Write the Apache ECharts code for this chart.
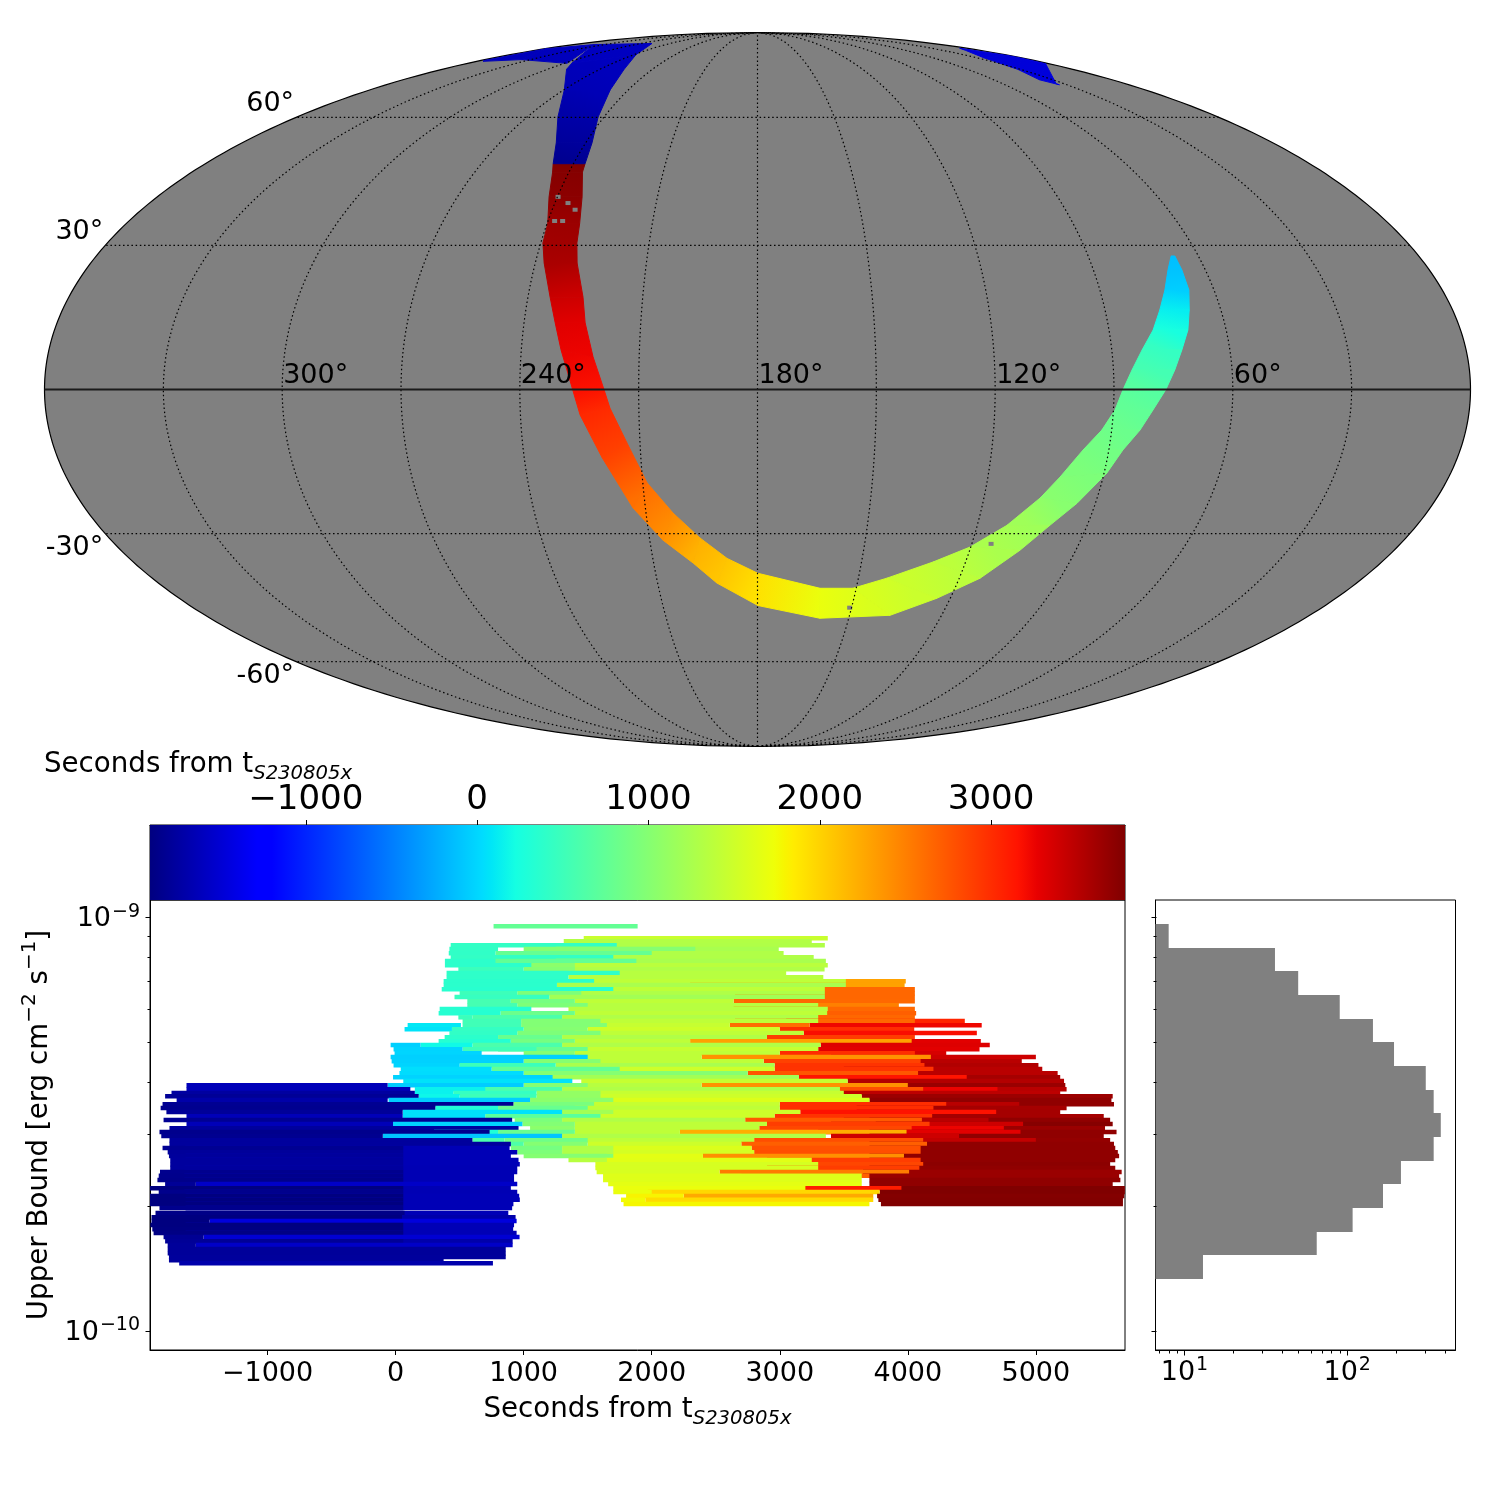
<!DOCTYPE html>
<html><head><meta charset="utf-8">
<style>html,body{margin:0;padding:0;background:#fff}#c{width:1500px;height:1500px}</style>
<script src="https://cdn.jsdelivr.net/npm/echarts@6/dist/echarts.min.js"></script>
</head><body><div id="c"></div>
<script>
// ---------- DATA ----------
// sky band: two edges of the localisation strip (lon, lat in degrees), and seconds from the event
const armLonA=[67.4,70.0,72.9,75.8,78.7,82.3,85.3,87.7,89.6,92.5,96.6,101.2,105.1,111.9,120.2,129.4,141.5,151,161,179.9,188.7,196,202.7,208.9,213.3,217.3,218.8,221.7,224.3,225.6,228.7,230,230.7,232.6,235.7,236.2];
const armLatA=[27.7,24.75,20.5,16.35,12.2,8.1,4.0,0,-4.2,-8.3,-12.4,-18.0,-22.4,-28.2,-32.9,-36.2,-39.8,-42.1,-42.1,-38.7,-35.4,-30.9,-25.6,-19.2,-11,-3.8,0.1,6.7,13.7,19,26.2,30.5,34.7,40.7,46.4,48.4];
const armLonB=[66.4,66.3,66.6,68.2,69.8,72.2,74.5,76.9,80,82.8,86.4,89.3,94.9,100.2,105.8,113.8,124.2,136.8,159.5,179.8,192.2,198.6,206.3,213.3,220,224.9,226.6,229.9,232,234.2,237.6,239.4,239.8,242.5,245.2,246.6];
const armLatB=[27.7,24.75,20.5,16.35,12.2,8.1,4.0,0,-4.2,-8.3,-12.4,-17.2,-23.5,-28.2,-33.6,-39.8,-44.4,-48.4,-49.1,-46.1,-40.9,-36.4,-31.4,-24.5,-13.9,-5.2,-0.2,8.1,13.7,19,26.2,30.5,34.7,40.7,46.4,48.4];
const armTime=[-130,-110,-50,130,250,450,550,680,750,820,880,950,1020,1180,1260,1380,1480,1580,1700,1915,2080,2194,2420,2602,2885,3025,3170,3250,3304,3406,3571,3617,3640,3720,3750,3782];

const northLonA=[236.2,237.8,242.3,248.4,256.1,268.5,288.3];
const northLatA=[48.4,53.5,60.1,67.6,73.9,79,83.5];
const northLonB=[246.6,250.3,258,269.7,288.9,295.3,340];
const northLatB=[48.4,53.5,60.1,67.6,73.9,75.9,83];
const northTime=[-1835,-1770,-1710,-1640,-1620,-1600,-1590];

const wingLonA=[356,335.8,298.3];
const wingLatA=[76.6,77.2,75.9];
const wingLonB=[358,359,340];
const wingLatB=[76.9,81.3,83];
const wingTime=[-1620,-1620,-1610];

const farLonA=[6,1,1,2,34];
const farLatA=[81.5,78.6,77.7,75.8,69.4];
const farLonB=[12,25.2,31.5,36.9,33.7];
const farLatB=[80.6,77.9,73.9,70.6,69.1];
const farTime=[-1480,-1480,-1470,-1460,-1450];

// small gaps in the sky coverage
const holeLon=[239.8,236.1,233.3,238.1,235.8,150.6,114.6];
const holeLat=[40.7,39.3,37.8,35.3,35.3,-46.6,-32.2];

// upper-limit rows: log10(upper bound), then [start, end, start, end, ...] in seconds, back to front
const ubLog=[-9.022,-9.051,-9.058,-9.068,-9.077,-9.087,-9.097,-9.106,-9.116,-9.126,-9.135,-9.145,-9.155,-9.164,-9.174,-9.184,-9.193,-9.203,-9.213,-9.222,-9.232,-9.242,-9.251,-9.261,-9.271,-9.280,-9.290,-9.300,-9.309,-9.319,-9.329,-9.338,-9.348,-9.358,-9.367,-9.377,-9.387,-9.396,-9.406,-9.416,-9.425,-9.433,-9.442,-9.452,-9.461,-9.471,-9.481,-9.490,-9.500,-9.510,-9.519,-9.529,-9.539,-9.548,-9.558,-9.568,-9.577,-9.587,-9.597,-9.606,-9.616,-9.625,-9.635,-9.645,-9.655,-9.664,-9.674,-9.683,-9.693,-9.703,-9.715,-9.725,-9.734,-9.744,-9.754,-9.763,-9.773,-9.783,-9.792,-9.802,-9.812,-9.821,-9.829,-9.836];
const spans=[
[765,1890],
[1469,3375],
[1313,3250],
[1300,3352,430,1727],
[1250,2992,1000,2340,420,800],
[1300,3030,780,2000,415,780],
[1300,3265,430,1700],
[1250,3360,760,1880,385,780],
[1370,3375,1050,1400,385,1060],
[1300,3350,1000,1400,490,1000],
[1350,3050,398,1750],
[1350,3340,398,1350],
[2300,3984,1400,3516,375,1550],
[2300,3975,1260,3516,375,1260],
[2650,4055,1400,3352,360,1700],
[2650,4055,1300,3352,950,1450,500,950],
[2650,4055,1200,3352,460,1200],
[2640,4055,1400,2640,900,1400,560,900],
[2500,3930,1350,3300,950,1500,560,950],
[2640,4055,1350,3375,344,1060],
[2700,4065,1400,3370,820,1400,336,820],
[2650,4055,1300,3300,600,1300,490,600],
[3050,4445,2650,4055,1400,3300,980,1600,523,980],
[3234,4577,2610,3234,1450,2610,980,1650,523,980,94,510],
[3000,4050,1500,3000,1000,1500,440,1000,70,440],
[3187,4539,1400,3187,950,1600,420,950],
[2900,4055,1300,2900,800,1300,383,800],
[3300,4570,2300,4030,1400,2300,900,1400,336,900],
[3320,4640,1300,3320,600,1300,195,600,-39,195],
[3300,4560,1450,3300,800,1500,523,1100,-16,523],
[3350,4300,3000,4055,1400,3000,1000,1400,-8,672],
[3400,5000,2390,4180,1400,2390,-39,1500],
[3500,4890,2875,4100,1400,2875,1000,1600,-31,1000],
[3540,5020,2960,4130,1250,2960,500,1250,-16,500],
[3500,5050,2960,4200,1500,2960,750,1750,40,750],
[3500,5170,2750,4080,1000,2750,30,1000],
[3600,5190,3150,4460,1200,3150,-20,1226],
[3530,5220,1450,3530,60,1380],
[3650,5230,2390,4000,1350,2390,1000,1500,-60,1000,-1633,-62],
[3500,5240,3250,4700,2800,4120,1300,3470,600,1300,150,700,-1633,115],
[3480,5190,1450,3500,1100,1600,450,1100,150,450,-1750,150],
[3640,5600,1500,3640,1100,1600,500,1100,180,500,-1800,180],
[3700,5590,1600,3700,1050,1700,-55,1050,-1710,-62],
[3700,5610,3500,4870,3000,4300,1450,3000,920,1550,-1820,920],
[3600,5240,3000,4200,1400,3000,800,1500,310,800,-1835,310],
[3600,5190,3160,4690,1500,3160,1200,1700,55,1300,-1790,55],
[3600,5530,2960,4190,1500,2960,700,1600,55,700,-1633,55],
[3700,5580,3500,4630,2730,4110,1300,2730,930,1300,-1812,910],
[3750,5600,3400,4900,2900,4170,1400,2900,990,1400,-20,990,-1633,-20],
[3650,5540,3250,4750,2840,4030,1400,2840,1050,1400,-1766,960],
[3700,5630,3300,4880,2220,3990,1400,2220,800,1400,300,800,-1844,734],
[3700,5530,3400,4400,1300,3360,-100,1300,-1830,-100],
[3680,5580,3450,5000,2800,4120,1400,2800,850,1500,600,850,-1766,600],
[3700,5610,2700,4150,1500,2700,1000,1500,620,1000,-1766,900],
[3700,5620,2780,4100,1600,2780,1300,1700,900,1300,-1640,890,-1820,60],
[3700,5640,2800,4100,1550,2800,1300,1700,950,1300,-1640,950,-1780,60],
[3700,5650,2400,3970,1650,2400,1000,1700,-1640,900,-1770,60],
[3700,5620,2900,4100,1640,3250,1350,1650,-1640,960,-1760,60],
[3720,5580,2850,4120,1560,3300,-1640,970,-1760,60],
[3700,5620,2900,4090,1560,3300,-1650,950,-1760,60],
[3650,5670,2530,4010,1570,2530,-1650,950,-1840,60],
[3650,5650,2700,3700,1620,3640,-1650,925,-1850,60],
[3700,5660,1620,3640,-1650,925,-1860,60],
[3700,5600,1660,3640,-1560,950,-1800,-1560],
[3780,5695,3100,3950,1700,3200,-1650,900,-1922,60],
[3780,5695,1970,3780,1700,2000,-1650,950,-1850,60],
[3760,5690,2250,3730,1800,2250,-1640,965,-1920,60],
[3770,5680,1950,3730,1760,1950,-1640,970,-1922,60],
[3790,5680,1780,3700,-1640,920,-1922,60],
[-1640,910,-1844,60],
[-1640,880,-1875,70],
[-1700,937,-1906,50],
[-1453,945,-1906,-1453],
[-1640,925,-1915,60],
[-1640,918,-1900,60],
[-1640,945,-1890,60],
[-1500,968,-1812,-1500],
[-1700,914,-1800,60],
[-1560,914,-1780,-1560],
[-1780,860],
[-1780,860],
[-1770,860],
[-1770,375],
[-1690,760]
];

// histogram of upper bounds
const binEdgeLog=[-9.017,-9.074,-9.131,-9.188,-9.245,-9.302,-9.360,-9.417,-9.474,-9.531,-9.588,-9.645,-9.702,-9.760,-9.817,-9.874];
const binCount=[8,36,50,90,144,194,304,340,376,340,214,166,108,65,13];

// tick marks and labels
const cbTicks=[-1000,0,1000,2000,3000];
const timeTicks=[-1000,0,1000,2000,3000,4000,5000];
const ubMajor=[1e-10,1e-9];
const ubMinor=[2e-10,3e-10,4e-10,5e-10,6e-10,7e-10,8e-10,9e-10];
const countMajor=[10,100];
const countMinor=[7,8,9,20,30,40,50,60,70,80,90,200,300,400];
const meridians=[30,60,90,120,150,180,210,240,270,300,330];
const parallels=[-60,-30,30,60];
const meridianLabels=[300,240,180,120,60];
const parallelLabels=[60,30,-30,-60];

const T_MIN=-1910,T_MAX=3782;
const X_MIN=-1918,X_MAX=5696;
const UB_MIN=9e-11,UB_MAX=1.1e-9;
const C_MIN=6.64,C_MAX=463;
const FONT='"DejaVu Sans"';

// ---------- HELPERS ----------
function ramp(pts,f){
  for(let i=1;i<pts.length;i++){ if(f<=pts[i][0]){const a=pts[i-1],b=pts[i];return a[1]+(b[1]-a[1])*(f-a[0])/(b[0]-a[0]);} }
  return pts[pts.length-1][1];
}
const JR=[[0,0],[.35,0],[.66,1],[.89,1],[1,.5]];
const JG=[[0,0],[.125,1e-9],[.375,1],[.64,1],[.91,0],[1,0]];
const JB=[[0,.5],[.11,1],[.34,1],[.65,0],[1,0]];
function jetFrac(f){f=Math.max(0,Math.min(1,f));
  return 'rgb('+Math.round(255*ramp(JR,f))+','+Math.round(255*ramp(JG,f))+','+Math.round(255*ramp(JB,f))+')';}
function jet(t){return jetFrac((t-T_MIN)/(T_MAX-T_MIN));}
const jetBreaks=[0,.11,.125,.34,.35,.375,.64,.65,.66,.89,.91,1];

function project(lon,lat){
  const phi=lat*Math.PI/180;
  let th=phi;
  if(Math.abs(lat)>=90){th=Math.sign(lat)*Math.PI/2;}
  else for(let i=0;i<40;i++){
    const d=(2*th+Math.sin(2*th)-Math.PI*Math.sin(phi))/(2+2*Math.cos(2*th));
    th-=d; if(Math.abs(d)<1e-9)break;
  }
  return [-(lon-180)/180*Math.cos(th),Math.sin(th)];
}
function seq(a,b,s){const o=[];for(let v=a;v<=b+1e-9;v+=s)o.push(v);return o;}

const mapAxes={coordinateSystem:'cartesian2d',xAxisIndex:0,yAxisIndex:0,silent:true};
function band(lonA,latA,lonB,latB,time){
  return Object.assign({type:'custom',data:time.slice(1).map((_,i)=>[i,0]),
    renderItem(p,api){
      const i=p.dataIndex;
      const c=(lo,la)=>api.coord(project(lo,la));
      const a0=c(lonA[i],latA[i]),b0=c(lonB[i],latB[i]),a1=c(lonA[i+1],latA[i+1]),b1=c(lonB[i+1],latB[i+1]);
      const m0=[(a0[0]+b0[0])/2,(a0[1]+b0[1])/2],m1=[(a1[0]+b1[0])/2,(a1[1]+b1[1])/2];
      const g=new echarts.graphic.LinearGradient(m0[0],m0[1],m1[0],m1[1],[{offset:0,color:jet(time[i])},{offset:1,color:jet(time[i+1])}],true);
      return {type:'polygon',shape:{points:[a0,b0,b1,a1]},style:{fill:g,stroke:g,lineWidth:1}};
    }},mapAxes);
}
function polyline(pts,style){return {type:'polyline',shape:{points:pts},style:Object.assign({fill:null,stroke:'#000',lineWidth:1},style)};}

function tickSeries(xi,yi,values,dir,len){
  return {type:'custom',xAxisIndex:xi,yAxisIndex:yi,silent:true,clip:false,z:10,
    data:values.map(v=>dir==='y'?[xi===2?X_MIN:C_MIN,v]:[v,UB_MIN]),
    renderItem(p,api){
      const c=api.coord([api.value(0),api.value(1)]);
      const x=Math.round(c[0])+.5,y=Math.round(c[1])+.5;
      const s=dir==='y'?{x1:x-len,y1:y,x2:x,y2:y}:{x1:x,y1:y,x2:x,y2:y+len};
      return {type:'line',shape:s,style:{stroke:'#000',lineWidth:1}};
    }};
}

// ---------- CHART ----------
const barData=[];
spans.forEach((row,r)=>{for(let k=0;k<row.length;k+=2)barData.push([row[k],row[k+1],Math.pow(10,ubLog[r])]);});

const powLabel=(v)=>{const e=Math.log10(v),n=Math.round(e);
  if(Math.abs(e-n)>1e-6)return '';
  return '{b|10}{e|'+String(n).replace('-','\u2212')+'}';};
const powRich={b:{fontFamily:FONT,fontSize:27,color:'#000',lineHeight:30,verticalAlign:'bottom'},
  e:{fontFamily:FONT,fontSize:19,color:'#000',lineHeight:20,verticalAlign:'top',padding:[0,0,0,1]}};
const nameRich={a:{fontFamily:FONT,fontSize:27.7,fontWeight:'normal',color:'#000',lineHeight:34,verticalAlign:'bottom'},
  s:{fontFamily:FONT,fontSize:19.6,fontWeight:'normal',fontStyle:'italic',color:'#000',lineHeight:34,verticalAlign:'bottom',padding:[0,0,-5,0]},
  u:{fontFamily:FONT,fontSize:20,fontWeight:'normal',color:'#000',lineHeight:24,verticalAlign:'top'}};
const lineK={onZero:false,lineStyle:{color:'#000',width:1}};
const tickK={lineStyle:{color:'#000',width:1}};

const option={
  animation:false,backgroundColor:'#fff',
  title:{text:'{a|Seconds from t}{s|S230805x}',left:44,top:745,padding:0,
    textStyle:{rich:nameRich,fontFamily:FONT,fontSize:28,fontWeight:'normal'}},
  grid:[
    {left:44.5,top:32.5,width:1426,height:714,show:false},
    {left:150,top:825,width:975,height:75,show:true,borderColor:'#000',borderWidth:1,backgroundColor:'transparent'},
    {left:150,top:900,width:975,height:450,show:true,borderColor:'#000',borderWidth:1,backgroundColor:'transparent'},
    {left:1155.5,top:900,width:300,height:450,show:true,borderColor:'#000',borderWidth:1,backgroundColor:'transparent'}
  ],
  xAxis:[
    {gridIndex:0,type:'value',min:-1,max:1,show:false},
    {gridIndex:1,type:'value',position:'top',min:T_MIN,max:T_MAX,
      axisLine:{show:true,...lineK},splitLine:{show:false},
      axisTick:{show:true,length:5,inside:false,...tickK,customValues:cbTicks},
      axisLabel:{customValues:cbTicks,fontFamily:FONT,fontSize:34,color:'#000',margin:8,
        formatter:v=>String(v).replace('-','\u2212')}},
    {gridIndex:2,type:'value',min:X_MIN,max:X_MAX,
      axisLine:{show:true,...lineK},splitLine:{show:false},
      axisTick:{show:true,length:5,...tickK,customValues:timeTicks},
      axisLabel:{customValues:timeTicks,fontFamily:FONT,fontSize:27,color:'#000',margin:10,
        formatter:v=>String(v).replace('-','\u2212')},
      name:'{a|Seconds from t}{s|S230805x}',nameLocation:'middle',nameGap:40,
      nameTextStyle:{rich:nameRich}},
    {gridIndex:3,type:'log',logBase:10,min:C_MIN,max:C_MAX,
      axisLine:{show:true,...lineK},splitLine:{show:false},axisTick:{show:false},minorTick:{show:false},
      axisLabel:{fontFamily:FONT,fontSize:27,color:'#000',margin:6,formatter:powLabel,rich:powRich,showMinLabel:false,showMaxLabel:false}}
  ],
  yAxis:[
    {gridIndex:0,type:'value',min:-1,max:1,show:false},
    {gridIndex:1,type:'value',min:0,max:1,show:false},
    {gridIndex:2,type:'log',logBase:10,min:UB_MIN,max:UB_MAX,
      axisLine:{show:true,...lineK},splitLine:{show:false},axisTick:{show:false},minorTick:{show:false},
      axisLabel:{fontFamily:FONT,fontSize:27,color:'#000',margin:10,formatter:powLabel,rich:powRich,showMinLabel:false,showMaxLabel:false},
      name:'{a|Upper Bound [erg cm}{u|\u22122}{a| s}{u|\u22121}{a|]}',nameLocation:'middle',nameGap:96,
      nameTextStyle:{rich:nameRich}},
    {gridIndex:3,type:'log',logBase:10,min:UB_MIN,max:UB_MAX,
      axisLine:{show:true,...lineK},splitLine:{show:false},axisTick:{show:false},minorTick:{show:false},
      axisLabel:{show:false}}
  ],
  series:[
    Object.assign({type:'custom',data:[[0,0]],
      renderItem(p,api){
        const pts=[];
        seq(-90,90,1).forEach(la=>pts.push(api.coord(project(360,la))));
        seq(-90,90,1).reverse().forEach(la=>pts.push(api.coord(project(0,la))));
        return {type:'polygon',shape:{points:pts},style:{fill:'#808080',stroke:'#000',lineWidth:1.2}};
      }},mapAxes),
    band(armLonA,armLatA,armLonB,armLatB,armTime),
    band(northLonA,northLatA,northLonB,northLatB,northTime),
    band(wingLonA,wingLatA,wingLonB,wingLatB,wingTime),
    band(farLonA,farLatA,farLonB,farLatB,farTime),
    Object.assign({type:'custom',data:holeLon.map((l,i)=>[l,holeLat[i]]),
      renderItem(p,api){
        const c=api.coord(project(api.value(0),api.value(1)));
        return {type:'rect',shape:{x:c[0]-2.5,y:c[1]-2,width:5,height:4},style:{fill:'#808080'}};
      }},mapAxes),
    Object.assign({type:'custom',data:meridians.map(m=>[m,0]),
      renderItem(p,api){
        const m=api.value(0),pts=seq(-90,90,2).map(la=>api.coord(project(m,la)));
        return polyline(pts,{lineDash:[1.5,2.7],stroke:'#000',lineWidth:1.2});
      }},mapAxes),
    Object.assign({type:'custom',data:parallels.map(l=>[l,0]),
      renderItem(p,api){
        const l=api.value(0),pts=seq(0,360,6).map(lo=>api.coord(project(lo,l)));
        return polyline(pts,{lineDash:[1.5,2.7],stroke:'#000',lineWidth:1.2});
      }},mapAxes),
    Object.assign({type:'custom',data:[[0,0]],
      renderItem(p,api){
        return polyline([api.coord(project(360,0)),api.coord(project(0,0))],{stroke:'#1a1a1a',lineWidth:1.8});
      }},mapAxes),
    Object.assign({type:'custom',data:meridianLabels.map(m=>[m,0]),
      renderItem(p,api){
        const m=api.value(0),c=api.coord(project(m,0));
        return {type:'text',style:{text:m+'\u00b0',x:c[0]+1,y:c[1]-14,fill:'#000',font:'27px '+FONT,textAlign:'left',textVerticalAlign:'middle'}};
      }},mapAxes),
    Object.assign({type:'custom',data:parallelLabels.map(l=>[l,0]),
      renderItem(p,api){
        const l=api.value(0),c=api.coord(project(360,l));
        return {type:'text',style:{text:l+'\u00b0',x:c[0]-2,y:c[1]+(l>0?-13:14),fill:'#000',font:'27px '+FONT,textAlign:'right',textVerticalAlign:'middle'}};
      }},mapAxes),
    {type:'custom',xAxisIndex:1,yAxisIndex:1,silent:true,data:[[T_MIN,T_MAX]],
      renderItem(p,api){
        const a=api.coord([T_MIN,1]),b=api.coord([T_MAX,0]);
        const g=new echarts.graphic.LinearGradient(0,0,1,0,jetBreaks.map(f=>({offset:f,color:jetFrac(f)})));
        return {type:'rect',shape:{x:a[0],y:a[1],width:b[0]-a[0],height:b[1]-a[1]},style:{fill:g}};
      }},
    {type:'custom',xAxisIndex:2,yAxisIndex:2,silent:true,clip:true,progressive:0,data:barData,encode:{x:[0,1],y:2},
      renderItem(p,api){
        const s=api.value(0),e=api.value(1),u=api.value(2);
        const a=api.coord([s,u]),b=api.coord([e,u]);
        return {type:'rect',shape:{x:a[0],y:a[1]-2.25,width:b[0]-a[0],height:4.5},style:{fill:jet(s)}};
      }},
    {type:'custom',xAxisIndex:3,yAxisIndex:3,silent:true,data:binCount.map((c,i)=>[c,Math.pow(10,binEdgeLog[i]),Math.pow(10,binEdgeLog[i+1])]),
      encode:{x:0,y:[1,2]},
      renderItem(p,api){
        const c=api.value(0);
        const a=api.coord([C_MIN,api.value(1)]),b=api.coord([c,api.value(2)]);
        const y0=Math.round(a[1]),y1=Math.round(b[1]);
        return {type:'rect',shape:{x:a[0],y:y0,width:b[0]-a[0],height:y1-y0},style:{fill:'#808080'}};
      }},
    tickSeries(2,2,ubMajor,'y',5),
    tickSeries(2,2,ubMinor,'y',3),
    tickSeries(3,3,ubMajor,'y',5),
    tickSeries(3,3,ubMinor,'y',3),
    tickSeries(3,3,countMajor,'x',5),
    tickSeries(3,3,countMinor,'x',3)
  ]
};
const chart=echarts.init(document.getElementById('c'),null,{renderer:'canvas',width:1500,height:1500});
chart.setOption(option);
</script></body></html>
